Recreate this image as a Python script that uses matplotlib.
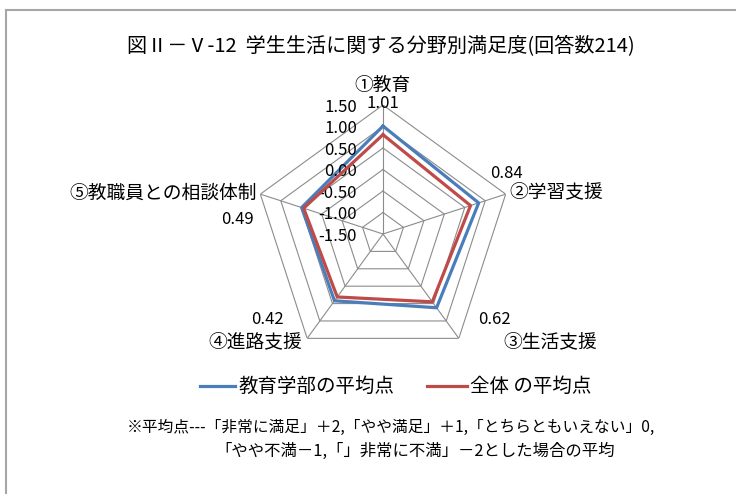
import numpy as np
import matplotlib
matplotlib.use("Agg")
import matplotlib.pyplot as plt
from matplotlib.lines import Line2D
from matplotlib.transforms import offset_copy

plt.rcParams['font.family'] = ['Noto Sans CJK JP', 'DejaVu Sans']

# データ
categories = ["①教育", "②学習支援", "③生活支援", "④進路支援", "⑤教職員との相談体制"]
faculty = [1.01, 0.84, 0.62, 0.42, 0.49]
overall = [0.81, 0.64, 0.45, 0.31, 0.44]
ticks = [-1.5, -1.0, -0.5, 0.0, 0.5, 1.0, 1.5]

W, H = 736, 494
BLUE = "#4A7EBB"
RED = "#BE4B48"
GRID = "#8C8C8C"


def px(x, y):
    return x / W, 1 - y / H


fig = plt.figure(figsize=(W / 100, H / 100), dpi=100)

# 枠線（上と左のみ見える）
fig.add_artist(Line2D([5.5 / W, 1], [1 - 10 / H] * 2, color="#A6A6A6", lw=1.5))
fig.add_artist(Line2D([5.5 / W] * 2, [1 - 10 / H, 0], color="#A6A6A6", lw=1.5))

fig.text(*px(381, 47), "図Ⅱ－Ⅴ-12  学生生活に関する分野別満足度(回答数214)",
         ha="center", va="center", fontsize=14.5)

# レーダー
cx, cy, R = 383, 234, 129
ax = fig.add_axes([(cx - R) / W, (H - cy - R) / H, 2 * R / W, 2 * R / H], projection="polar")
ax.set_theta_offset(np.pi / 2)
ax.set_theta_direction(-1)
ax.set_ylim(ticks[0], ticks[-1])
ax.grid(False)
ax.spines["polar"].set_visible(False)
ax.set_xticks([])
ax.set_yticks([])
ax.patch.set_alpha(0)

n = len(categories)
theta = np.arange(n) * 2 * np.pi / n
theta_c = np.append(theta, theta[0])

for t in ticks[1:]:
    ax.plot(theta_c, [t] * (n + 1), color=GRID, lw=0.8, zorder=1)
for th in theta:
    ax.plot([th, th], [ticks[0], ticks[-1]], color=GRID, lw=0.8, zorder=1)

ax.plot(theta_c, faculty + faculty[:1], color=BLUE, lw=2.3, zorder=3)
ax.plot(theta_c, overall + overall[:1], color=RED, lw=2.3, zorder=4)

# 目盛ラベル
tr = offset_copy(ax.transData, fig=fig, x=-26 * 0.72, y=-2 * 0.72, units="points")
for t in ticks:
    ax.text(0, t, f"{t:.2f}", transform=tr, ha="right", va="center", fontsize=12)

# 項目ラベルとデータラベル
cat_pos = [(383, 85, "center"), (509, 193, "left"), (503, 343, "left"),
           (302, 343, "right"), (257, 193, "right")]
val_pos = [(383, 104, "center"), (506, 174, "center"), (494, 319, "center"),
           (267, 319, "center"), (254, 220, "right")]
for i in range(n):
    x, y, ha = cat_pos[i]
    fig.text(*px(x, y), categories[i], ha=ha, va="center", fontsize=13.5)
    x, y, ha = val_pos[i]
    fig.text(*px(x, y), f"{faculty[i]:.2f}", ha=ha, va="center", fontsize=12)

# 凡例
fig.add_artist(Line2D([200 / W, 235 / W], [1 - 386 / H] * 2, color=BLUE, lw=2.3))
fig.text(*px(239, 386), "教育学部の平均点", ha="left", va="center", fontsize=14)
fig.add_artist(Line2D([427 / W, 467 / W], [1 - 386 / H] * 2, color=RED, lw=2.3))
fig.text(*px(470, 386), "全体 の平均点", ha="left", va="center", fontsize=14)

# 注記
fig.text(*px(391, 427), "※平均点---「非常に満足」＋2,「やや満足」＋1,「とちらともいえない」0,",
         ha="center", va="center", fontsize=11.3)
fig.text(*px(415, 451), "「やや不満－1,「」非常に不満」－2とした場合の平均",
         ha="center", va="center", fontsize=11.8)

fig.savefig("out.png", dpi=100)
plt.close(fig)
